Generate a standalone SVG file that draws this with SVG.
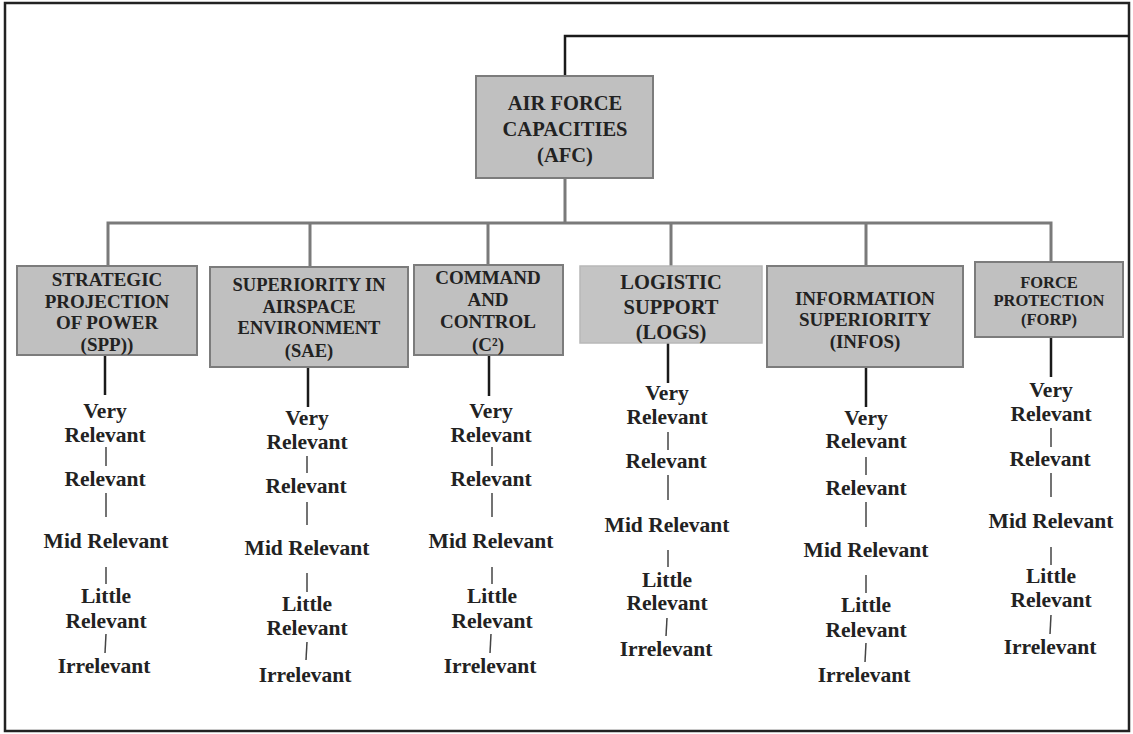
<svg xmlns="http://www.w3.org/2000/svg" width="1133" height="734" viewBox="0 0 1133 734">
<style>
.box{fill:#c0c0c0;stroke:#7c7c7c;stroke-width:2}
.t{font-family:"Liberation Serif","Times New Roman",serif;font-weight:bold;fill:#222;text-anchor:middle}
.lv{font-size:21.5px}
.bar{fill:none;stroke:#7a7a7a;stroke-width:3}
.drop{stroke:#1a1a1a;stroke-width:2.5}
.tick{stroke:#444;stroke-width:1.5}
</style>
<rect x="5" y="3" width="1124" height="728" fill="#fff" stroke="#222" stroke-width="2.5"/>
<g id="connectors">
<path d="M565,75 V36 H1129" fill="none" stroke="#1a1a1a" stroke-width="2.5"/>
<path class="bar" d="M565,177 V223 M108,266 V223 H1051 V262 M310,223 V267 M488,223 V265 M671,223 V266 M866,223 V266"/>
<g class="drop">
<line x1="105" y1="355" x2="105" y2="395"/>
<line x1="308" y1="367" x2="308" y2="407"/>
<line x1="489" y1="355" x2="489" y2="396"/>
<line x1="668" y1="343" x2="668" y2="383"/>
<line x1="866" y1="367" x2="866" y2="407"/>
<line x1="1051" y1="337" x2="1051" y2="377"/>
</g>
<g class="tick">
<line x1="106" y1="447" x2="106" y2="466"/><line x1="106" y1="493" x2="106" y2="517"/><line x1="106" y1="567" x2="106" y2="584"/><line x1="106" y1="634" x2="105" y2="653"/>
<line x1="307" y1="456" x2="307" y2="473"/><line x1="307" y1="502" x2="307" y2="525"/><line x1="307" y1="573" x2="307" y2="592"/><line x1="307" y1="642" x2="306" y2="660"/>
<line x1="492" y1="447" x2="492" y2="466"/><line x1="492" y1="493" x2="492" y2="517"/><line x1="492" y1="567" x2="492" y2="584"/><line x1="491" y1="634" x2="490" y2="653"/>
<line x1="668" y1="432" x2="668" y2="450"/><line x1="668" y1="475" x2="668" y2="500"/><line x1="668" y1="550" x2="668" y2="567"/><line x1="667" y1="618" x2="666" y2="636"/>
<line x1="866" y1="457" x2="866" y2="475"/><line x1="866" y1="502" x2="866" y2="527"/><line x1="866" y1="575" x2="866" y2="593"/><line x1="866" y1="643" x2="865" y2="662"/>
<line x1="1051" y1="428" x2="1051" y2="447"/><line x1="1051" y1="473" x2="1051" y2="497"/><line x1="1051" y1="547" x2="1051" y2="565"/><line x1="1051" y1="615" x2="1050" y2="634"/>
</g>
</g>
<g id="afc">
<rect class="box" x="476" y="76" width="177" height="102"/>
<text class="t" font-size="20.5" x="565"><tspan x="565" y="110">AIR FORCE</tspan><tspan x="565" y="136">CAPACITIES</tspan><tspan x="565" y="162">(AFC)</tspan></text>
</g>
<g id="spp">
<rect class="box" x="17" y="266" width="180" height="89"/>
<text class="t" font-size="19" x="107"><tspan x="107" y="286">STRATEGIC</tspan><tspan x="107" y="308">PROJECTION</tspan><tspan x="107" y="329">OF POWER</tspan><tspan x="107" y="351">(SPP))</tspan></text>
</g>
<g id="sae">
<rect class="box" x="210" y="267" width="198" height="100"/>
<text class="t" font-size="18.5" x="309"><tspan x="309" y="291">SUPERIORITY IN</tspan><tspan x="309" y="313">AIRSPACE</tspan><tspan x="309" y="334">ENVIRONMENT</tspan><tspan x="309" y="357">(SAE)</tspan></text>
</g>
<g id="c2">
<rect class="box" x="414" y="265" width="149" height="90"/>
<text class="t" font-size="19" x="488"><tspan x="488" y="284">COMMAND</tspan><tspan x="488" y="306">AND</tspan><tspan x="488" y="328">CONTROL</tspan><tspan x="488" y="351">(C²)</tspan></text>
</g>
<g id="logs">
<rect x="580" y="266" width="182" height="77" fill="#c4c4c4" stroke="#b8b8b8" stroke-width="1.5"/>
<text class="t" font-size="20.5" x="671"><tspan x="671" y="289">LOGISTIC</tspan><tspan x="671" y="314">SUPPORT</tspan><tspan x="671" y="339">(LOGS)</tspan></text>
</g>
<g id="infos">
<rect class="box" x="767" y="266" width="196" height="101"/>
<text class="t" font-size="19" x="865"><tspan x="865" y="305">INFORMATION</tspan><tspan x="865" y="326">SUPERIORITY</tspan><tspan x="865" y="348">(INFOS)</tspan></text>
</g>
<g id="forp">
<rect class="box" x="975" y="262" width="148" height="75"/>
<text class="t" font-size="16.5" x="1049"><tspan x="1049" y="288">FORCE</tspan><tspan x="1049" y="306">PROTECTION</tspan><tspan x="1049" y="325">(FORP)</tspan></text>
</g>
<g id="spp-levels">
<text class="t lv" x="105" y="418">Very</text><text class="t lv" x="105" y="442">Relevant</text><text class="t lv" x="105" y="486">Relevant</text><text class="t lv" x="106" y="548">Mid Relevant</text><text class="t lv" x="106" y="603">Little</text><text class="t lv" x="106" y="628">Relevant</text><text class="t lv" x="104" y="673">Irrelevant</text>
</g>
<g id="sae-levels">
<text class="t lv" x="307" y="425">Very</text><text class="t lv" x="307" y="449">Relevant</text><text class="t lv" x="306" y="493">Relevant</text><text class="t lv" x="307" y="555">Mid Relevant</text><text class="t lv" x="307" y="611">Little</text><text class="t lv" x="307" y="635">Relevant</text><text class="t lv" x="305" y="682">Irrelevant</text>
</g>
<g id="c2-levels">
<text class="t lv" x="491" y="418">Very</text><text class="t lv" x="491" y="442">Relevant</text><text class="t lv" x="491" y="486">Relevant</text><text class="t lv" x="491" y="548">Mid Relevant</text><text class="t lv" x="492" y="603">Little</text><text class="t lv" x="492" y="628">Relevant</text><text class="t lv" x="490" y="673">Irrelevant</text>
</g>
<g id="logs-levels">
<text class="t lv" x="667" y="400">Very</text><text class="t lv" x="667" y="424">Relevant</text><text class="t lv" x="666" y="468">Relevant</text><text class="t lv" x="667" y="532">Mid Relevant</text><text class="t lv" x="667" y="587">Little</text><text class="t lv" x="667" y="610">Relevant</text><text class="t lv" x="666" y="656">Irrelevant</text>
</g>
<g id="infos-levels">
<text class="t lv" x="866" y="425">Very</text><text class="t lv" x="866" y="448">Relevant</text><text class="t lv" x="866" y="495">Relevant</text><text class="t lv" x="866" y="557">Mid Relevant</text><text class="t lv" x="866" y="612">Little</text><text class="t lv" x="866" y="637">Relevant</text><text class="t lv" x="864" y="682">Irrelevant</text>
</g>
<g id="forp-levels">
<text class="t lv" x="1051" y="397">Very</text><text class="t lv" x="1051" y="421">Relevant</text><text class="t lv" x="1050" y="466">Relevant</text><text class="t lv" x="1051" y="528">Mid Relevant</text><text class="t lv" x="1051" y="583">Little</text><text class="t lv" x="1051" y="607">Relevant</text><text class="t lv" x="1050" y="654">Irrelevant</text>
</g>
</svg>
